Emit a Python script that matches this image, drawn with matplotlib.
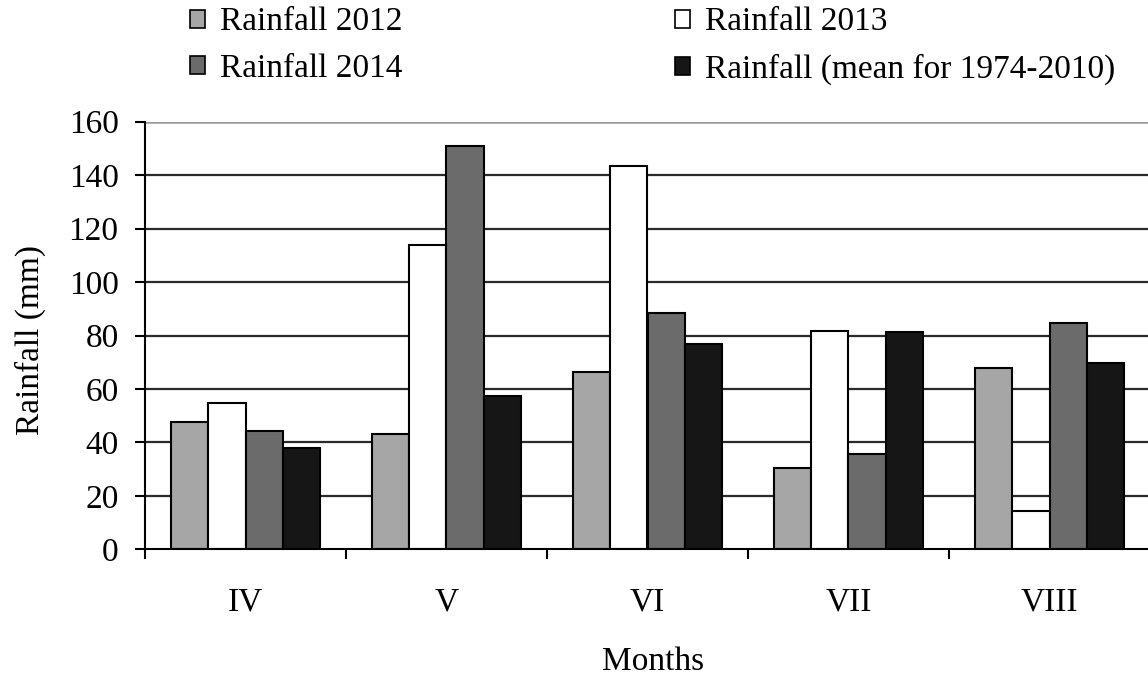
import matplotlib
matplotlib.use("Agg")
import matplotlib.pyplot as plt
import numpy as np
from matplotlib.patches import Patch

months = ["IV", "V", "VI", "VII", "VIII"]
rain_2012 = [47.5, 43.0, 66.4, 30.5, 67.7]
rain_2013 = [54.6, 113.9, 143.3, 81.6, 14.3]
rain_2014 = [44.3, 150.9, 88.5, 35.5, 84.6]
rain_mean = [37.8, 57.4, 76.8, 81.2, 69.6]
series_labels = ["Rainfall 2012", "Rainfall 2013", "Rainfall 2014",
                 "Rainfall (mean for 1974-2010)"]
series_colors = ["#a6a6a6", "#ffffff", "#6b6b6b", "#161616"]
yticks = [0, 20, 40, 60, 80, 100, 120, 140, 160]

plt.rcParams['font.family'] = ['Liberation Serif', 'DejaVu Serif']
FS = 24

fig = plt.figure(figsize=(11.48, 6.81), dpi=100)
W, H = 1148, 681
ax = fig.add_axes([145 / W, 1 - 549.3 / H, 1005 / W, (549.3 - 121.7) / H])

series = [rain_2012, rain_2013, rain_2014, rain_mean]
x = np.arange(len(months)) + 0.5
bw = 0.186
handles = []
for i, (vals, col, lab) in enumerate(zip(series, series_colors, series_labels)):
    offs = (i - 1.5) * bw
    ax.bar(x + offs, vals, width=bw, color=col, edgecolor="black",
           linewidth=1.5, zorder=3)
    handles.append(Patch(facecolor=col, edgecolor="black", linewidth=1.2, label=lab))

ax.set_xlim(0, len(months))
ax.set_ylim(0, 160)

# grid lines
for v in yticks[1:-1]:
    ax.axhline(v, color="#2a2a2a", linewidth=1.6, zorder=1)
ax.axhline(160, color="#9a9a9a", linewidth=1.8, zorder=1)

ax.set_yticks(yticks)
ax.set_yticklabels([str(v) for v in yticks], fontsize=FS)
ax.tick_params(axis="y", direction="out", length=7, width=1.5, pad=12)

ax.set_xticks(np.arange(len(months) + 1))
ax.set_xticklabels([])
ax.tick_params(axis="x", which="major", direction="out", length=7, width=1.5)
ax.set_xticks(x, minor=True)
ax.set_xticklabels(months, minor=True, fontsize=FS)
ax.tick_params(axis="x", which="minor", length=0, pad=27)

for s in ["top", "right"]:
    ax.spines[s].set_visible(False)
for s in ["left", "bottom"]:
    ax.spines[s].set_linewidth(1.5)
    ax.spines[s].set_color("black")
    ax.spines[s].set_zorder(4)

fig.text(30 / W, 1 - 340 / H, "Rainfall (mm)", rotation=90, ha="center",
         va="center", fontsize=FS)
fig.text(653 / W, 1 - 662 / H, "Months", ha="center", va="center", fontsize=FS)

order = [0, 2, 1, 3]
fig.legend([handles[k] for k in order], [series_labels[k] for k in order],
           ncol=2, loc="upper left", bbox_to_anchor=(190 / W, 1 - 7 / H),
           frameon=False, fontsize=FS, handlelength=0.45, handleheight=0.45,
           handletextpad=0.45, columnspacing=8.17, labelspacing=0.48,
           borderpad=0, borderaxespad=0)

fig.savefig("out.png", dpi=100)
